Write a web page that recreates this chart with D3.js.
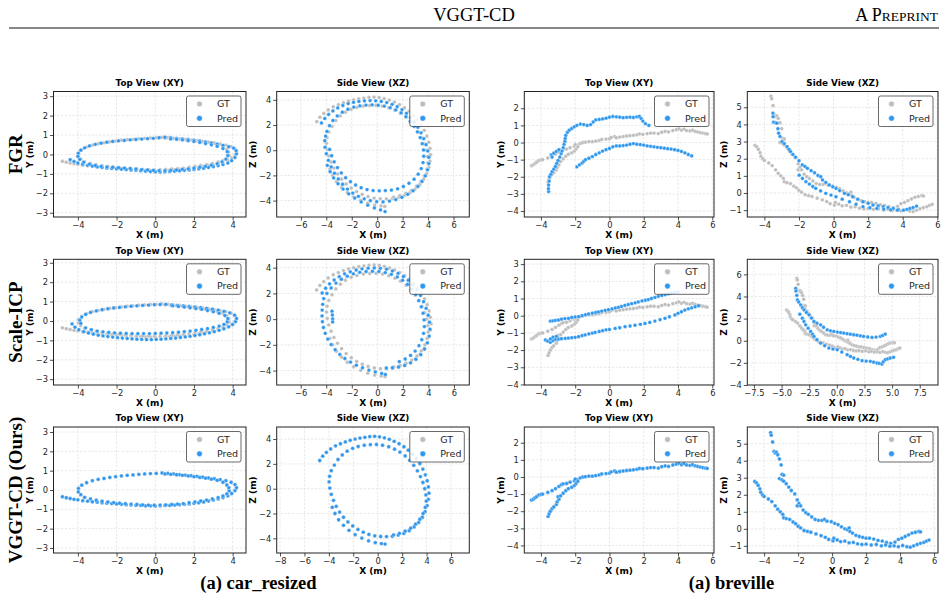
<!DOCTYPE html>
<html>
<head>
<meta charset="utf-8">
<script src="https://cdn.jsdelivr.net/npm/d3@7"></script>
<style>
body { margin: 0; background: #fff; }
svg text { font-family: "DejaVu Sans", sans-serif; }
</style>
</head>
<body>
<div id="chart"></div>
<script>
// ---- data (metres) ----
const methods = ["FGR", "Scale-ICP", "VGGT-CD (Ours)"];
const sceneNames = ["(a) car_resized", "(a) breville"];
const viewTitles = ["Top View (XY)", "Side View (XZ)"];
const seriesNames = ["GT", "Pred"];

// car_resized, ground truth (the Ours prediction sits on top of it)
const gtCarXY = [[-4.8,-0.35],[-4.6,-0.4],[-4.4,-0.44],[-4.2,-0.48],[-4.0,-0.51],[-3.75,-0.55],[-3.5,-0.58],[-3.25,-0.61],[-3.0,-0.63],[-2.75,-0.66],[-2.5,-0.68],[-2.25,-0.7],[-2.0,-0.72],[-1.75,-0.74],[-1.5,-0.76],[-1.25,-0.78],[-1.0,-0.79],[-0.75,-0.8],[-0.5,-0.82],[-0.25,-0.82],[0.0,-0.83],[0.25,-0.82],[0.5,-0.8],[0.75,-0.8],[1.0,-0.78],[1.25,-0.76],[1.5,-0.74],[1.75,-0.72],[2.0,-0.69],[2.25,-0.66],[2.5,-0.62],[2.75,-0.57],[3.0,-0.52],[3.25,-0.46],[3.5,-0.39],[3.75,-0.3],[3.95,-0.18],[4.12,-0.03],[4.2,0.12],
  [4.12,0.28],[3.92,0.4],[3.65,0.48],[3.35,0.54],[3.05,0.59],[2.75,0.63],[2.45,0.67],[2.15,0.71],[1.85,0.74],[1.55,0.77],[1.25,0.8],[0.95,0.83],[0.65,0.86],[0.35,0.88],[0.05,0.86],[-0.25,0.85],[-0.55,0.83],[-0.85,0.81],[-1.15,0.78],[-1.45,0.76],[-1.75,0.73],[-2.05,0.69],[-2.35,0.65],[-2.65,0.6],[-2.95,0.55],[-3.25,0.48],[-3.55,0.38],[-3.8,0.25],[-3.97,0.08],[-3.98,-0.1],[-3.85,-0.24],
  [-3.65,-0.38],[-3.35,-0.46],[-3.05,-0.53],[-2.75,-0.58],[-2.45,-0.62],[-2.15,-0.65],[-1.85,-0.68],[-1.55,-0.71],[-1.25,-0.73],[-0.95,-0.75],[-0.65,-0.77],[-0.35,-0.78],[-0.05,-0.79],[0.25,-0.78],[0.55,-0.77],[0.85,-0.75],[1.15,-0.73],[1.45,-0.7],[1.75,-0.66],[2.05,-0.62],[2.35,-0.57],[2.65,-0.52],[2.95,-0.46],[3.25,-0.39],[3.5,-0.31],[3.7,-0.2],[3.82,-0.05],[3.8,0.12],[3.7,0.26],
  [3.5,0.4],[3.2,0.5],[2.9,0.56],[2.6,0.61],[2.3,0.65],[2.0,0.69],[1.7,0.73],[1.4,0.76],[1.1,0.79],[0.8,0.81],[0.5,0.83]];

const gtCarXZ = [[-4.75,2.27],[-4.5,2.62],[-4.2,2.92],[-3.85,3.2],[-3.45,3.45],[-3.05,3.62],[-2.65,3.77],[-2.25,3.9],[-1.85,4.0],[-1.45,4.08],[-1.05,4.14],[-0.65,4.2],[-0.25,4.22],[0.15,4.18],[0.55,4.1],[0.95,3.98],[1.35,3.82],[1.75,3.62],[2.15,3.38],[2.5,3.1],[2.85,2.78],[3.15,2.42],[3.45,2.02],[3.7,1.58],[3.9,1.12],[4.05,0.64],[4.15,0.14],[4.2,-0.36],[4.15,-0.86],[4.05,-1.36],[3.88,-1.85],[3.65,-2.3],[3.35,-2.72],[2.98,-3.08],[2.58,-3.38],[2.14,-3.6],[1.68,-3.74],[1.2,-3.83],[0.72,-3.86],[0.24,-3.85],[-0.24,-3.8],[-0.72,-3.68],[-1.18,-3.5],[-1.62,-3.28],[-2.04,-3.0],[-2.44,-2.68],[-2.8,-2.3],[-3.12,-1.88],[-3.4,-1.42],[-3.62,-0.94],[-3.8,-0.45],[-3.92,0.05],[-3.98,0.55],[-3.94,1.0],
  [-3.8,1.45],[-3.55,1.9],[-3.25,2.35],[-2.9,2.72],[-2.5,3.02],[-2.05,3.25],[-1.6,3.4],[-1.1,3.5],[-0.6,3.55],[-0.1,3.56],[0.4,3.5],[0.9,3.38],[1.38,3.18],[1.82,2.95],[2.25,2.64],[2.62,2.28],[2.95,1.88],[3.25,1.44],[3.5,0.98],[3.7,0.5],[3.85,0.0],[3.95,-0.5],[3.98,-1.0],[3.9,-1.5],[3.72,-2.0],[3.45,-2.46],[3.1,-2.86],[2.7,-3.18],[2.25,-3.42],[1.78,-3.6],[1.3,-3.72],
  [-3.72,-1.5],[-3.5,-2.0],[-3.2,-2.5],[-2.8,-2.95],[-2.35,-3.35],[-1.85,-3.7],[-1.3,-3.98],[-0.75,-4.2],[-0.2,-4.35],[0.3,-4.42],[0.6,-4.46]];

// car_resized, FGR prediction
const fgrCarXY = [[-4.4,-0.27],[-4.2,-0.36],[-4.0,-0.44],[-3.75,-0.5],[-3.5,-0.56],[-3.25,-0.6],[-3.0,-0.64],[-2.75,-0.67],[-2.5,-0.7],[-2.25,-0.72],[-2.0,-0.74],[-1.75,-0.76],[-1.5,-0.78],[-1.25,-0.8],[-1.0,-0.82],[-0.75,-0.84],[-0.5,-0.86],[-0.25,-0.88],[0.0,-0.9],[0.25,-0.91],[0.5,-0.9],[0.75,-0.88],[1.0,-0.86],[1.25,-0.84],[1.5,-0.82],[1.75,-0.8],[2.0,-0.77],[2.25,-0.74],[2.5,-0.71],[2.75,-0.67],[3.0,-0.63],[3.25,-0.58],[3.5,-0.52],[3.75,-0.44],[3.95,-0.32],[4.12,-0.16],[4.2,0.03],[4.18,0.2],
  [4.05,0.33],[3.8,0.4],[3.5,0.47],[3.2,0.53],[2.9,0.6],[2.6,0.65],[2.3,0.7],[2.0,0.74],[1.7,0.77],[1.4,0.8],[1.1,0.83],[0.8,0.86],[0.5,0.89],[0.2,0.86],[-0.1,0.83],[-0.4,0.81],[-0.7,0.79],[-1.0,0.77],[-1.3,0.75],[-1.6,0.72],[-1.9,0.7],[-2.2,0.67],[-2.5,0.63],[-2.8,0.58],[-3.1,0.52],[-3.4,0.44],[-3.65,0.34],[-3.85,0.22],[-3.98,0.06],[-4.0,-0.1],[-3.9,-0.25],
  [-3.7,-0.4],[-3.4,-0.5],[-3.1,-0.57],[-2.8,-0.62],[-2.5,-0.64],[-2.2,-0.66],[-1.9,-0.68],[-1.6,-0.7],[-1.3,-0.72],[-1.0,-0.75],[-0.7,-0.78],[-0.4,-0.8],[-0.1,-0.82],[0.2,-0.84],[0.5,-0.84],[0.8,-0.82],[1.1,-0.8],[1.4,-0.77],[1.7,-0.74],[2.0,-0.7],[2.3,-0.66],[2.6,-0.61],[2.9,-0.55],[3.2,-0.48],[3.45,-0.38],[3.65,-0.24],[3.75,-0.06],[3.72,0.14],
  [3.5,0.3],[3.2,0.42],[2.9,0.5],[2.6,0.56],[2.3,0.62],[2.0,0.67],[1.7,0.71],[1.4,0.75],[1.1,0.78],[0.8,0.8]];

const fgrCarXZ = [[-4.38,2.16],[-4.12,2.52],[-3.82,2.84],[-3.48,3.12],[-3.1,3.36],[-2.7,3.55],[-2.28,3.7],[-1.86,3.8],[-1.44,3.87],[-1.0,3.92],[-0.56,3.94],[-0.12,3.92],[0.32,3.87],[0.75,3.78],[1.17,3.64],[1.57,3.45],[1.95,3.21],[2.3,2.93],[2.62,2.6],[2.92,2.23],[3.2,1.82],[3.45,1.38],[3.66,0.92],[3.84,0.44],[3.98,-0.06],[4.06,-0.56],[4.06,-1.06],[3.96,-1.56],[3.78,-2.04],[3.52,-2.48],[3.2,-2.88],[2.82,-3.22],[2.4,-3.5],[1.94,-3.74],[1.46,-3.92],[0.96,-4.04],[0.46,-4.1],[-0.04,-4.08],[-0.54,-4.0],[-1.02,-3.86],[-1.48,-3.66],[-1.92,-3.4],[-2.34,-3.08],[-2.72,-2.7],[-3.06,-2.28],[-3.36,-1.82],[-3.62,-1.32],[-3.84,-0.8],[-4.0,-0.28],[-4.1,0.24],[-4.12,0.76],[-4.06,1.12],
  [-3.95,1.5],[-3.75,1.95],[-3.48,2.36],[-3.14,2.72],[-2.74,3.02],[-2.3,3.25],[-1.84,3.42],[-1.36,3.52],[-0.88,3.58],[-0.4,3.6],[0.08,3.57],[0.56,3.5],[1.02,3.38],[1.46,3.2],[1.88,2.96],[2.26,2.66],[2.6,2.3],[2.9,1.9],[3.16,1.46],[3.38,1.0],[3.54,0.52],[3.64,0.02],[3.66,-0.48],[3.6,-0.98],[3.46,-1.46],[3.22,-1.9],[2.9,-2.3],[2.5,-2.62],[2.06,-2.88],[1.6,-3.06],[1.12,-3.16],[0.64,-3.2],[0.16,-3.22],[-0.32,-3.2],[-0.8,-3.12],[-1.26,-2.98],[-1.7,-2.76],[-2.1,-2.5],[-2.48,-2.18],[-2.82,-1.8],[-3.12,-1.38],[-3.38,-0.92],[-3.58,-0.44],[-3.74,0.06],
  [-3.92,-1.2],[-3.7,-1.7],[-3.42,-2.2],[-3.08,-2.66],[-2.68,-3.08],[-2.24,-3.46],[-1.76,-3.8],[-1.26,-4.1],[-0.74,-4.36],[-0.22,-4.58],[0.26,-4.74],[0.62,-4.87]];

// car_resized, Scale-ICP prediction
const sicpCarXY = [[-4.3,-0.15],[-4.15,-0.32],[-3.95,-0.45],[-3.7,-0.55],[-3.45,-0.62],[-3.2,-0.68],[-2.95,-0.73],[-2.7,-0.77],[-2.45,-0.8],[-2.2,-0.83],[-1.95,-0.86],[-1.7,-0.88],[-1.45,-0.9],[-1.2,-0.92],[-0.95,-0.94],[-0.7,-0.95],[-0.45,-0.96],[-0.2,-0.96],[0.05,-0.95],[0.3,-0.94],[0.55,-0.92],[0.8,-0.9],[1.05,-0.88],[1.3,-0.85],[1.55,-0.82],[1.8,-0.79],[2.05,-0.75],[2.3,-0.71],[2.55,-0.66],[2.8,-0.61],[3.05,-0.55],[3.3,-0.48],[3.55,-0.4],[3.8,-0.3],[4.0,-0.18],[4.15,-0.03],[4.2,0.13],
  [4.1,0.3],[3.85,0.42],[3.55,0.5],[3.25,0.56],[2.95,0.61],[2.65,0.65],[2.35,0.69],[2.05,0.72],[1.75,0.75],[1.45,0.78],[1.15,0.8],[0.85,0.83],[0.55,0.86],[0.25,0.85],[-0.05,0.84],[-0.35,0.82],[-0.65,0.8],[-0.95,0.78],[-1.25,0.76],[-1.55,0.73],[-1.85,0.7],[-2.15,0.67],[-2.45,0.63],[-2.75,0.58],[-3.05,0.52],[-3.35,0.44],[-3.6,0.34],[-3.8,0.2],[-3.9,0.04],[-3.85,-0.12],
  [-3.6,-0.35],[-3.3,-0.45],[-3.0,-0.52],[-2.7,-0.56],[-2.4,-0.59],[-2.1,-0.61],[-1.8,-0.63],[-1.5,-0.64],[-1.2,-0.65],[-0.9,-0.65],[-0.6,-0.65],[-0.3,-0.65],[0.0,-0.64],[0.3,-0.63],[0.6,-0.62],[0.9,-0.6],[1.2,-0.58],[1.5,-0.55],[1.8,-0.52],[2.1,-0.48],[2.4,-0.44],[2.7,-0.39],[3.0,-0.33],[3.3,-0.26],[3.55,-0.17],[3.72,-0.04],[3.75,0.12],
  [3.6,0.28],[3.3,0.4],[3.0,0.48],[2.7,0.54],[2.4,0.6],[2.1,0.64],[1.8,0.68],[1.5,0.72],[1.2,0.75],[0.9,0.78]];

const sicpCarXZ = [[-4.32,2.03],[-4.05,2.4],[-3.74,2.74],[-3.38,3.04],[-2.98,3.3],[-2.56,3.52],[-2.12,3.68],[-1.66,3.82],[-1.2,3.91],[-0.72,3.96],[-0.24,3.98],[0.24,3.95],[0.72,3.88],[1.18,3.74],[1.62,3.56],[2.04,3.32],[2.42,3.02],[2.78,2.68],[3.1,2.28],[3.38,1.84],[3.62,1.36],[3.82,0.84],[3.98,0.3],[4.08,-0.24],[4.12,-0.78],[4.06,-1.32],[3.92,-1.84],[3.7,-2.32],[3.4,-2.76],[3.02,-3.12],[2.6,-3.4],[2.14,-3.6],[1.66,-3.72],[1.18,-3.78],[0.7,-3.8],
  [-4.2,1.6],[-4.28,1.15],[-4.32,0.7],[-4.33,0.25],[-4.3,-0.2],[-4.22,-0.65],[-4.08,-1.1],[-3.88,-1.55],[-3.62,-1.98],[-3.3,-2.38],[-2.94,-2.74],[-2.54,-3.06],[-2.1,-3.34],[-1.64,-3.58],[-1.16,-3.78],[-0.66,-3.96],[-0.16,-4.1],[0.34,-4.22],[0.63,-4.3],
  [-3.55,0.62],[-3.52,0.32],[-3.5,0.02],[-3.5,-0.22],
  [-3.95,2.0],[-3.62,2.42],[-3.24,2.8],[-2.82,3.1],[-2.36,3.34],[-1.88,3.52],[-1.38,3.64],[-0.88,3.7],[-0.38,3.72],[0.12,3.7],[0.62,3.62],[1.1,3.48],[1.56,3.28],[1.98,3.02],[2.36,2.7],[2.7,2.32],[3.0,1.9],[3.24,1.44],[3.44,0.96],[3.58,0.46],[3.66,-0.06],[3.68,-0.58],[3.62,-1.1],[3.48,-1.6],[3.26,-2.06],[2.96,-2.48],[2.6,-2.82],[2.18,-3.1],[1.72,-3.3]];

// breville, ground truth (the Ours prediction sits on top of it)
const gtBrevXY = [[-4.55,-1.35],[-4.45,-1.3],[-4.35,-1.22],[-4.25,-1.15],[-4.12,-1.05],[-4.0,-1.02],[-3.9,-1.0],[-3.6,-0.9],[-3.35,-0.8],[-3.15,-0.68],[-2.95,-0.55],[-2.8,-0.45],[-2.7,-0.4],[-2.5,-0.38],[-2.3,-0.3],[-2.05,-0.22],[-1.85,-0.15],[-1.7,-0.05],[-1.55,0.0],[-1.4,0.02],[-1.2,0.05],[-1.0,0.05],[-0.8,0.08],[-0.6,0.12],[-0.45,0.18],[-0.2,0.2],[0.0,0.22],[0.1,0.3],[0.3,0.35],[0.4,0.28],[0.6,0.32],[0.8,0.35],[1.0,0.38],[1.2,0.4],[1.4,0.42],[1.6,0.45],[1.75,0.5],[1.95,0.48],[2.2,0.52],[2.4,0.55],[2.6,0.55],[2.85,0.52],[3.05,0.6],[3.25,0.65],[3.45,0.62],[3.7,0.7],[3.9,0.75],[4.05,0.8],[4.2,0.72],[4.35,0.78],[4.5,0.7],[4.7,0.68],[4.85,0.72],[5.0,0.65],[5.15,0.62],[5.3,0.58],[5.45,0.55],[5.6,0.52],[5.7,0.5],
  [-3.58,-2.3],[-3.52,-2.15],[-3.45,-2.0],[-3.35,-1.85],[-3.25,-1.75],[-3.1,-1.6],[-3.05,-1.45],[-2.95,-1.3],[-3.0,-1.15],[-2.85,-1.1],[-2.7,-0.95],[-2.55,-0.8],[-2.4,-0.68],[-2.2,-0.6],[-2.05,-0.5],[-1.95,-0.38],[-1.85,-0.25],[-2.0,-0.12]];

const gtBrevXZ = [[-3.62,5.65],[-3.58,5.5],[-3.5,5.1],[-3.42,4.55],[-3.35,4.45],[-3.28,4.5],[-3.2,4.35],[-3.1,4.1],[-3.0,3.75],[-2.95,3.2],[-2.85,3.15],[-3.1,2.95],[-2.95,2.88],[-2.85,2.8],[-2.7,2.65],[-2.55,2.45],[-2.4,2.25],[-2.2,2.05],[-2.05,1.7],[-1.95,1.5],[-2.05,1.35],[-1.85,1.35],[-1.7,1.1],[-1.55,0.95],[-1.4,0.85],[-1.2,0.7],[-1.0,0.55],[-0.8,0.5],[-0.6,0.5],[-0.45,0.55],[-0.3,0.45],[-0.05,0.42],[0.15,0.32],[0.35,0.25],[0.55,0.12],[0.75,0.0],[0.9,-0.05],[1.0,0.05],[1.05,-0.15],[1.2,-0.25],[1.4,-0.38],[1.6,-0.45],[1.8,-0.5],[2.0,-0.55],[2.2,-0.55],[2.45,-0.6],[2.7,-0.68],[2.95,-0.72],[3.2,-0.8],[3.45,-0.85],[3.7,-0.78],[3.9,-0.62],[4.1,-0.55],[4.3,-0.45],[4.5,-0.35],[4.7,-0.25],[4.9,-0.2],[5.1,-0.15],[5.2,-0.18],
  [-4.55,2.78],[-4.45,2.7],[-4.35,2.55],[-4.25,2.35],[-4.2,2.15],[-4.1,2.0],[-4.0,1.9],[-3.75,1.75],[-3.55,1.6],[-3.35,1.35],[-3.2,1.15],[-3.05,1.0],[-2.9,0.85],[-2.85,0.65],[-2.7,0.6],[-2.5,0.55],[-2.3,0.4],[-2.15,0.3],[-2.0,0.15],[-1.85,0.05],[-1.65,-0.1],[-1.45,-0.15],[-1.25,-0.2],[-0.95,-0.3],[-0.65,-0.4],[-0.4,-0.5],[-0.2,-0.62],[0.05,-0.7],[0.1,-0.55],[0.3,-0.65],[0.5,-0.75],[0.75,-0.72],[1.0,-0.82],[1.25,-0.8],[1.5,-0.88],[1.75,-0.92],[2.0,-0.9],[2.3,-0.95],[2.6,-0.92],[2.9,-1.0],[3.15,-0.95],[3.4,-1.02],[3.65,-1.0],[3.9,-1.05],[4.15,-0.98],[4.4,-1.05],[4.6,-1.08],[4.8,-1.0],[5.0,-0.92],[5.2,-0.85],[5.4,-0.8],[5.55,-0.72],[5.7,-0.66]];

// breville, FGR prediction
const fgrBrevXY = [[-3.55,-2.86],[-3.56,-2.7],[-3.55,-2.48],[-3.52,-2.25],[-3.5,-2.0],[-3.42,-1.85],[-3.35,-1.7],[-3.25,-1.55],[-3.16,-1.4],[-3.08,-1.22],[-3.0,-1.05],[-2.9,-0.85],[-2.82,-0.65],[-2.77,-0.5],[-2.7,-0.3],[-2.65,-0.1],[-2.6,0.08],[-2.58,0.25],[-2.55,0.42],[-2.45,0.6],[-2.35,0.72],[-2.2,0.82],[-2.05,0.92],[-1.9,1.0],[-1.7,1.08],[-1.5,1.05],[-1.3,1.0],[-1.1,1.05],[-0.95,1.2],[-0.8,1.32],[-0.6,1.35],[-0.4,1.38],[-0.2,1.42],[0.0,1.48],[0.2,1.52],[0.4,1.5],[0.6,1.48],[0.8,1.45],[1.0,1.47],[1.2,1.48],[1.4,1.46],[1.6,1.5],[1.75,1.52],[1.85,1.4],[1.95,1.25],[2.1,1.1],[2.3,1.0],
  [-3.4,-0.72],[-3.25,-0.62],[-3.1,-0.52],[-2.95,-0.42],[-3.35,-0.85],
  [-1.9,-1.42],[-1.75,-1.3],[-1.6,-1.2],[-1.5,-1.1],[-1.4,-1.0],[-1.2,-0.92],[-1.0,-0.82],[-0.8,-0.7],[-0.6,-0.6],[-0.4,-0.5],[-0.2,-0.42],[0.0,-0.35],[0.2,-0.25],[0.4,-0.2],[0.6,-0.2],[0.8,-0.18],[1.0,-0.15],[1.2,-0.1],[1.4,-0.06],[1.6,-0.1],[1.8,-0.12],[2.0,-0.15],[2.2,-0.2],[2.4,-0.22],[2.6,-0.25],[2.8,-0.28],[3.0,-0.3],[3.2,-0.33],[3.4,-0.36],[3.6,-0.38],[3.8,-0.42],[4.0,-0.46],[4.2,-0.52],[4.4,-0.6],[4.6,-0.7],[4.8,-0.78]];

const fgrBrevXZ = [[-3.51,4.66],[-3.5,4.45],[-3.47,4.13],[-3.35,4.1],[-3.28,4.07],[-3.22,3.75],[-3.18,3.49],[-3.1,3.3],[-2.98,3.0],[-2.85,2.88],[-2.69,2.71],[-2.58,2.55],[-2.49,2.42],[-2.35,2.25],[-2.2,2.09],[-2.0,1.88],[-1.81,1.64],[-1.65,1.55],[-1.51,1.44],[-1.3,1.3],[-1.1,1.18],[-0.9,1.02],[-0.74,0.95],[-0.64,0.76],[-0.45,0.62],[-0.25,0.47],[-0.05,0.36],[0.14,0.27],[0.35,0.14],[0.63,-0.02],[0.85,-0.1],[1.11,-0.22],[1.4,-0.36],[1.7,-0.51],[2.0,-0.6],[2.28,-0.7],[2.58,-0.75],[2.87,-0.8],[3.15,-0.85],[3.45,-0.9],[3.75,-0.95],[4.04,-1.0],[4.25,-0.95],[4.42,-0.9],[4.6,-0.85],[4.8,-0.76],
  [-1.99,1.04],[-1.8,0.85],[-1.6,0.66],[-1.4,0.52],[-1.2,0.38],[-1.03,0.27],[-0.75,0.12],[-0.45,-0.02],[-0.15,-0.12],[0.14,-0.22],[0.5,-0.36],[0.92,-0.51],[1.3,-0.65],[1.7,-0.8],[2.1,-0.86],[2.5,-0.9],[2.9,-0.94],[3.3,-0.98],[3.7,-1.0]];

// breville, Scale-ICP prediction
const sicpBrevXY = [[-3.45,-0.31],[-3.3,-0.3],[-3.15,-0.27],[-2.97,-0.25],[-2.8,-0.2],[-2.6,-0.17],[-2.39,-0.15],[-2.2,-0.1],[-2.0,-0.07],[-1.8,-0.05],[-1.6,0.0],[-1.4,0.06],[-1.22,0.1],[-1.0,0.15],[-0.8,0.19],[-0.64,0.22],[-0.45,0.27],[-0.25,0.31],[-0.06,0.35],[0.15,0.4],[0.35,0.45],[0.52,0.49],[0.7,0.54],[0.9,0.6],[1.1,0.65],[1.3,0.7],[1.5,0.75],[1.68,0.8],[1.9,0.86],[2.1,0.9],[2.27,0.94],[2.45,1.0],[2.65,1.06],[2.85,1.13],[3.05,1.18],[3.25,1.22],[3.43,1.27],[3.62,1.31],[3.8,1.35],[4.0,1.38],
  [-3.74,-1.41],[-3.6,-1.48],[-3.45,-1.55],[-3.3,-1.45],[-3.15,-1.38],[-2.97,-1.36],[-2.8,-1.34],[-2.58,-1.32],[-2.4,-1.3],[-2.2,-1.28],[-2.0,-1.26],[-1.8,-1.22],[-1.6,-1.16],[-1.42,-1.12],[-1.2,-1.06],[-1.0,-1.01],[-0.84,-0.97],[-0.6,-0.92],[-0.4,-0.87],[-0.2,-0.82],[0.0,-0.8],[0.33,-0.74],[0.6,-0.7],[0.91,-0.64],[1.2,-0.6],[1.49,-0.55],[1.8,-0.5],[2.07,-0.45],[2.35,-0.39],[2.65,-0.31],[2.95,-0.23],[3.24,-0.15],[3.5,-0.06],[3.82,0.04],[4.0,0.14],[4.2,0.23],[4.4,0.33],[4.6,0.4],[4.8,0.46],[5.0,0.52],[5.2,0.58],
  [-3.3,-1.25],[-3.1,-1.2],[-3.45,-1.35]];

const sicpBrevXZ = [[-3.72,4.74],[-3.7,4.5],[-3.62,4.1],[-3.57,3.69],[-3.45,3.5],[-3.27,3.24],[-3.12,3.0],[-2.97,2.79],[-2.75,2.55],[-2.52,2.34],[-2.3,2.05],[-2.07,1.74],[-1.8,1.6],[-1.47,1.44],[-1.2,1.22],[-0.87,0.99],[-0.57,0.9],[-0.27,0.84],[0.05,0.78],[0.35,0.73],[0.63,0.69],[0.93,0.64],[1.23,0.59],[1.53,0.54],[1.83,0.5],[2.13,0.44],[2.43,0.39],[2.8,0.34],[3.18,0.3],[3.55,0.33],[3.93,0.39],[4.15,0.48],[4.38,0.6],
  [-3.35,2.4],[-3.12,2.04],[-2.97,1.74],[-2.82,1.44],[-2.6,1.14],[-2.37,0.84],[-2.2,0.6],[-2.07,0.39],[-1.8,0.1],[-1.47,-0.21],[-1.1,-0.45],[-0.72,-0.66],[-0.35,-0.75],[0.03,-0.81],[0.45,-1.02],[0.93,-1.26],[1.23,-1.42],[1.53,-1.56],[1.9,-1.68],[2.28,-1.8],[2.65,-1.84],[3.03,-1.86],[3.33,-1.94],[3.63,-2.01],[3.85,-2.05],[4.08,-2.1],[4.2,-1.9],[4.38,-1.71],[4.6,-1.64],[4.83,-1.56],[5.13,-1.5]];

// VGGT-CD (Ours): prediction lies on the ground truth
const oursCarXY = gtCarXY, oursCarXZ = gtCarXZ, oursBrevXY = gtBrevXY, oursBrevXZ = gtBrevXZ;

// axis ticks per panel
const ticksC1 = [-4, -2, 0, 2, 4];
const ticksC1Y = [-3, -2, -1, 0, 1, 2, 3];
const ticksC2 = [-6, -4, -2, 0, 2, 4, 6];
const ticksC2R3 = [-8, -6, -4, -2, 0, 2, 4, 6];
const ticksC2Y = [-4, -2, 0, 2, 4];
const ticksC3 = [-4, -2, 0, 2, 4, 6];
const ticksC3Y = [-4, -3, -2, -1, 0, 1, 2];
const ticksC3YR2 = [-4, -3, -2, -1, 0, 1, 2, 3];
const ticksC4 = [-4, -2, 0, 2, 4, 6];
const ticksC4Y = [-1, 0, 1, 2, 3, 4, 5];
const ticksC4R2 = [-7.5, -5, -2.5, 0, 2.5, 5, 7.5];
const ticksC4YR2 = [-4, -2, 0, 2, 4, 6];

const gtColor = "#bdbdbd", predColor = "#2f97ee";

// ---- layout ----
const width = 948, height = 602;
const svg = d3.select("#chart").append("svg")
    .attr("width", width).attr("height", height);

const colX = [[53.5, 246], [276.7, 469.3], [524.3, 714], [747.3, 938]];
const rowY = [[91.5, 217], [259.3, 385], [427, 553]];

const panels = [
  {r: 0, c: 0, gt: gtCarXY, pred: fgrCarXY, xd: [-5.26, 4.69], yd: [-3.22, 3.24], xt: ticksC1, yt: ticksC1Y, yl: "Y (m)"},
  {r: 0, c: 1, gt: gtCarXZ, pred: fgrCarXZ, xd: [-7.9, 7.24], yd: [-5.3, 4.66], xt: ticksC2, yt: ticksC2Y, yl: "Z (m)"},
  {r: 0, c: 2, gt: gtBrevXY, pred: fgrBrevXY, xd: [-4.97, 6.1], yd: [-4.35, 2.98], xt: ticksC3, yt: ticksC3Y, yl: "Y (m)"},
  {r: 0, c: 3, gt: gtBrevXZ, pred: fgrBrevXZ, xd: [-4.99, 6.04], yd: [-1.4, 5.92], xt: ticksC4, yt: ticksC4Y, yl: "Z (m)"},
  {r: 1, c: 0, gt: gtCarXY, pred: sicpCarXY, xd: [-5.26, 4.69], yd: [-3.3, 3.18], xt: ticksC1, yt: ticksC1Y, yl: "Y (m)"},
  {r: 1, c: 1, gt: gtCarXZ, pred: sicpCarXZ, xd: [-7.88, 7.2], yd: [-5.12, 4.65], xt: ticksC2, yt: ticksC2Y, yl: "Z (m)"},
  {r: 1, c: 2, gt: gtBrevXY, pred: sicpBrevXY, xd: [-4.97, 6.1], yd: [-4.03, 3.28], xt: ticksC3, yt: ticksC3YR2, yl: "Y (m)"},
  {r: 1, c: 3, gt: gtBrevXZ, pred: sicpBrevXZ, xd: [-8.1, 9.15], yd: [-4.0, 7.36], xt: ticksC4R2, yt: ticksC4YR2, yl: "Z (m)", fmt: ".1f"},
  {r: 2, c: 0, gt: gtCarXY, pred: oursCarXY, xd: [-5.26, 4.69], yd: [-3.26, 3.26], xt: ticksC1, yt: ticksC1Y, yl: "Y (m)"},
  {r: 2, c: 1, gt: gtCarXZ, pred: oursCarXZ, xd: [-8.27, 7.5], yd: [-5.18, 4.97], xt: ticksC2R3, yt: ticksC2Y, yl: "Z (m)"},
  {r: 2, c: 2, gt: gtBrevXY, pred: oursBrevXY, xd: [-4.97, 6.1], yd: [-4.44, 2.92], xt: ticksC3, yt: ticksC3Y, yl: "Y (m)"},
  {r: 2, c: 3, gt: gtBrevXZ, pred: oursBrevXZ, xd: [-4.99, 6.23], yd: [-1.42, 5.98], xt: ticksC4, yt: ticksC4Y, yl: "Z (m)"}
];

// ---- page header ----
svg.append("text").attr("x", 474).attr("y", 20.5).attr("text-anchor", "middle")
    .style("font-family", "Liberation Serif").style("font-size", "18.5px").text("VGGT-CD");
const pre = svg.append("text").attr("x", 938).attr("y", 20.5).attr("text-anchor", "end")
    .style("font-family", "Liberation Serif").style("font-size", "18px");
pre.append("tspan").text("A P");
pre.append("tspan").style("font-size", "13.5px").text("REPRINT");
svg.append("line").attr("x1", 9).attr("x2", 939).attr("y1", 28).attr("y2", 28)
    .attr("stroke", "#111").attr("stroke-width", 1);

// ---- panels ----
function drawPanel(p, i) {
  const [x0, x1] = colX[p.c], [y0, y1] = rowY[p.r];
  const x = d3.scaleLinear().domain(p.xd).range([x0, x1]);
  const y = d3.scaleLinear().domain(p.yd).range([y1, y0]);
  const fmt = p.fmt ? d3.format(p.fmt) : d3.format("d");
  const g = svg.append("g");

  // grid
  g.append("g").selectAll("line").data(p.xt).join("line")
      .attr("x1", d => x(d)).attr("x2", d => x(d)).attr("y1", y0).attr("y2", y1)
      .attr("stroke", "#d6d6d6").attr("stroke-width", 0.6).attr("stroke-dasharray", "2.2,1.6");
  g.append("g").selectAll("line").data(p.yt).join("line")
      .attr("x1", x0).attr("x2", x1).attr("y1", d => y(d)).attr("y2", d => y(d))
      .attr("stroke", "#d6d6d6").attr("stroke-width", 0.6).attr("stroke-dasharray", "2.2,1.6");

  // axes
  const xa = g.append("g").attr("transform", `translate(0,${y1})`)
      .call(d3.axisBottom(x).tickValues(p.xt).tickSize(3.5).tickPadding(2).tickFormat(fmt));
  const ya = g.append("g").attr("transform", `translate(${x0},0)`)
      .call(d3.axisLeft(y).tickValues(p.yt).tickSize(3.5).tickPadding(2).tickFormat(d3.format("d")));
  [xa, ya].forEach(a => {
    a.select(".domain").remove();
    a.selectAll("line").attr("stroke", "#222").attr("stroke-width", 0.8);
    a.selectAll("text").attr("fill", "#262626").style("font-size", "8.3px")
        .style("font-family", "DejaVu Sans");
  });

  // points
  const clipId = "clip" + i;
  g.append("clipPath").attr("id", clipId).append("rect")
      .attr("x", x0).attr("y", y0).attr("width", x1 - x0).attr("height", y1 - y0);
  const pts = g.append("g").attr("clip-path", `url(#${clipId})`);
  pts.append("g").selectAll("circle").data(p.gt).join("circle")
      .attr("cx", d => x(d[0])).attr("cy", d => y(d[1])).attr("r", 1.9)
      .attr("fill", gtColor).attr("stroke", "#fff").attr("stroke-width", 0.35);
  pts.append("g").selectAll("circle").data(p.pred).join("circle")
      .attr("cx", d => x(d[0])).attr("cy", d => y(d[1])).attr("r", 1.9)
      .attr("fill", predColor).attr("stroke", "#fff").attr("stroke-width", 0.35);

  // frame
  g.append("rect").attr("x", x0).attr("y", y0).attr("width", x1 - x0).attr("height", y1 - y0)
      .attr("fill", "none").attr("stroke", "#222").attr("stroke-width", 1);

  // titles
  g.append("text").attr("x", (x0 + x1) / 2).attr("y", y0 - 5.8).attr("text-anchor", "middle")
      .style("font-size", "8.8px").style("font-weight", "bold").text(viewTitles[p.c % 2]);
  g.append("text").attr("x", (x0 + x1) / 2).attr("y", y1 + 21).attr("text-anchor", "middle")
      .style("font-size", "9px").style("font-weight", "bold").text("X (m)");
  g.append("text").attr("transform", `translate(${x0 - 20.5},${(y0 + y1) / 2}) rotate(-90)`)
      .attr("text-anchor", "middle")
      .style("font-size", "9px").style("font-weight", "bold").text(p.yl);

  // legend
  const lx = x1 - 59.5, ly = y0 + 4.5;
  const lg = g.append("g");
  lg.append("rect").attr("x", lx).attr("y", ly).attr("width", 54.5).attr("height", 30.5)
      .attr("rx", 2).attr("fill", "#fff").attr("fill-opacity", 0.85)
      .attr("stroke", "#444").attr("stroke-width", 0.8);
  [gtColor, predColor].forEach((col, k) => {
    lg.append("circle").attr("cx", lx + 13).attr("cy", ly + 8 + k * 14.3).attr("r", 2.8)
        .attr("fill", col).attr("stroke", "#fff").attr("stroke-width", 0.4);
    lg.append("text").attr("x", lx + 30.5).attr("y", ly + 11.3 + k * 14.3)
        .style("font-size", "9.5px").attr("fill", "#262626").text(seriesNames[k]);
  });
}
panels.forEach(drawPanel);

// ---- row labels ----
const rowCenters = rowY.map(r => (r[0] + r[1]) / 2);
methods.forEach((m, k) => {
  svg.append("text").attr("transform", `translate(21.5,${rowCenters[k]}) rotate(-90)`)
      .attr("text-anchor", "middle")
      .style("font-family", "Liberation Serif").style("font-weight", "bold").style("font-size", "19px")
      .text(m);
});

// ---- scene captions ----
const captionX = [258.5, 731.5];
sceneNames.forEach((s, k) => {
  svg.append("text").attr("x", captionX[k]).attr("y", 589).attr("text-anchor", "middle")
      .style("font-family", "Liberation Serif").style("font-weight", "bold").style("font-size", "18.5px")
      .text(s);
});
</script>
</body>
</html>
